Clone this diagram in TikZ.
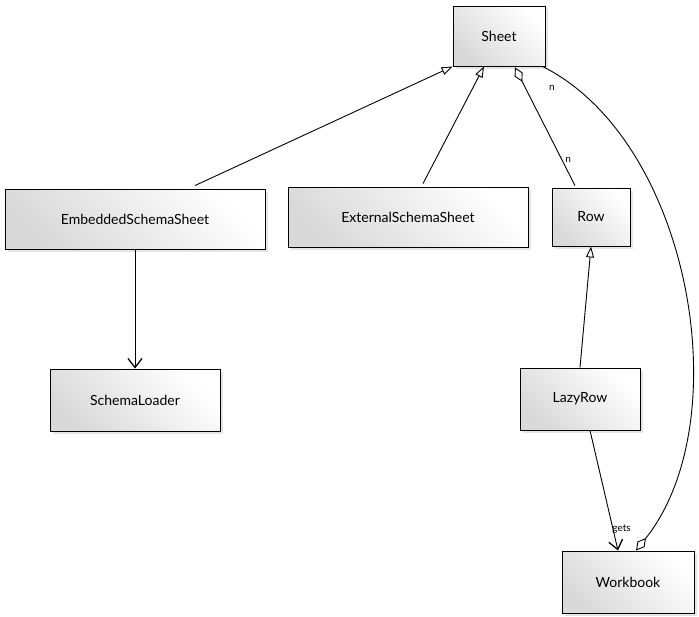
\documentclass[tikz,border=0pt]{standalone}
\usepackage{fontspec}
\setmainfont{Lato}
\usetikzlibrary{arrows.meta,shadows,calc}
\tikzset{
  cls/.style={draw=black, line width=0.9pt, shading=axis, left color=white, right color=black!15, shading angle=-45,
    drop shadow={shadow xshift=3pt, shadow yshift=-3pt, fill=black!20, opacity=0.5},
    font=\fontsize{14}{16}\selectfont, inner sep=0pt, anchor=center},
  conn/.style={draw=black, line width=0.9pt},
  inherit/.style={conn, -{Triangle[open, length=11pt, width=8pt]}},
  aggr/.style={conn, -{Diamond[open, length=16pt, width=9pt]}},
  dep/.style={conn, -{Straight Barb[length=9pt, width=14pt, line width=1.3pt]}},
  lbl/.style={font=\fontsize{10}{11}\selectfont, inner sep=1pt}
}
\begin{document}
\begin{tikzpicture}[x=1pt,y=-1pt]
\useasboundingbox (0,0) rectangle (699,616);
\node[cls, minimum width=92pt, minimum height=60pt] (sheet) at (499,36) {Sheet};
\node[cls, minimum width=260pt, minimum height=60pt] (emb) at (135,219) {EmbeddedSchemaSheet};
\node[cls, minimum width=240pt, minimum height=60pt] (ext) at (408,217) {ExternalSchemaSheet};
\node[cls, minimum width=78pt, minimum height=58pt] (row) at (591,217) {Row};
\node[cls, minimum width=170pt, minimum height=62pt] (loader) at (135,400) {SchemaLoader};
\node[cls, minimum width=120pt, minimum height=62pt] (lazy) at (580,399) {LazyRow};
\node[cls, minimum width=132pt, minimum height=62pt] (wb) at (628,582) {Workbook};

\draw[inherit] ($(emb.north)+(60,-3)$) -- (sheet.south west);
\draw[inherit] ($(ext.north)+(15,-3)$) -- ($(sheet.south)+(-15,0)$);
\draw[aggr] ($(row.north)+(-16,-2)$) -- node[lbl, pos=0.22, right=2pt] {n} ($(sheet.south)+(16,1)$);
\draw[inherit] ($(lazy.north)+(0,0)$) -- (row.south);
\draw[dep] (emb.south) -- (loader.north);
\draw[dep] ($(lazy.south)+(10,0)$) -- node[lbl, pos=0.82, right=-2pt] {gets} ($(wb.north)+(-10,0)$);
\draw[aggr] ($(sheet.south east)+(-3,0)$) .. controls (690,140) and (740,420) .. ($(wb.north)+(8,0)$);
\node[lbl] (n2) at (552,88) {n};
\end{tikzpicture}
\end{document}
